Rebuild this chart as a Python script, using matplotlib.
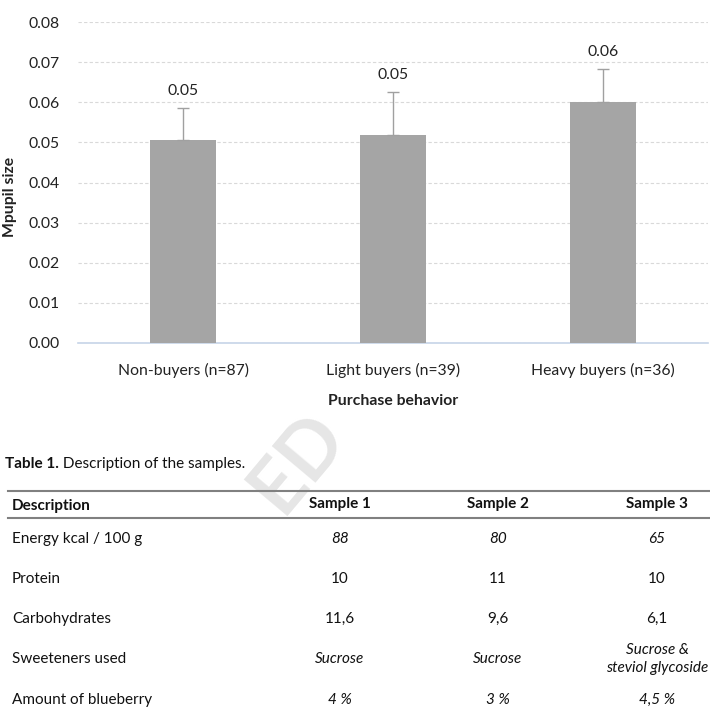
import matplotlib
matplotlib.use("Agg")
import matplotlib.pyplot as plt
import numpy as np
from matplotlib.lines import Line2D

plt.rcParams['font.family'] = ['Lato', 'DejaVu Sans']

# ---- chart data ----
categories = ["Non-buyers (n=87)", "Light buyers (n=39)", "Heavy buyers (n=36)"]
means = [0.0506, 0.0519, 0.0601]
errors = [0.0080, 0.0107, 0.0082]
yticks = [0.00, 0.01, 0.02, 0.03, 0.04, 0.05, 0.06, 0.07, 0.08]

# ---- table data ----
col_headers = ["Description", "Sample 1", "Sample 2", "Sample 3"]
row_labels = ["Energy kcal / 100 g", "Protein", "Carbohydrates", "Sweeteners used", "Amount of blueberry"]
sample1 = ["88", "10", "11,6", "Sucrose", "4 %"]
sample2 = ["80", "11", "9,6", "Sucrose", "3 %"]
sample3 = ["65", "10", "6,1", "Sucrose &\nsteviol glycoside", "4,5 %"]
row_italic = [True, False, False, True, True]

W, H = 710, 716
fig = plt.figure(figsize=(W / 100, H / 100), dpi=100)
fig.patch.set_facecolor("white")

def fx(x):
    return x / W

def fy(y):
    return 1 - y / H

CH = 11.3   # chart font size
TF = 11     # table font size
TXT = "#222222"

# faint watermark fragment
fig.text(fx(298), fy(462), "ED", fontsize=56, fontweight="bold",
         color="#e6e6e6", rotation=50, ha="center", va="center", zorder=0)

# ---- chart ----
ax = fig.add_axes([fx(78), fy(343), fx(708) - fx(78), fy(22) - fy(343)])
ax.set_facecolor("none")
x = np.arange(len(categories))
ax.bar(x, means, width=0.315, color="#a5a5a5", zorder=3,
       yerr=[np.zeros(len(errors)), errors],
       error_kw=dict(ecolor="#a0a0a0", elinewidth=1.0, capsize=4, capthick=1.0, zorder=4))
for xi, m, e in zip(x, means, errors):
    ax.annotate(f"{m:.2f}", xy=(xi, m + e), xytext=(0, 12), textcoords="offset points",
                ha="center", va="center", fontsize=CH, color=TXT, zorder=5)

ax.set_xlim(-0.5, len(categories) - 0.5)
ax.set_ylim(0, 0.08)
ax.set_yticks(yticks)
ax.set_yticklabels([f"{v:.2f}" for v in yticks], fontsize=CH, color=TXT)
ax.set_xticks(x)
ax.set_xticklabels(categories, fontsize=CH, color=TXT)
ax.tick_params(axis="both", length=0)
ax.tick_params(axis="y", pad=13)
ax.tick_params(axis="x", pad=14)
ax.yaxis.grid(True, linestyle=(0, (3, 2)), color="#d9d9d9", linewidth=0.8, zorder=0)
ax.set_axisbelow(True)
for s in ["top", "right", "left"]:
    ax.spines[s].set_visible(False)
ax.spines["bottom"].set_color("#c6d4e8")
ax.spines["bottom"].set_linewidth(1.2)
ax.set_xlabel("Purchase behavior", fontsize=CH, fontweight="bold", color=TXT, labelpad=12)
ax.set_ylabel("Mpupil size", fontsize=CH, fontweight="bold", color=TXT)
ax.yaxis.set_label_coords(-0.097, 0.455)

# ---- table ----
t1 = fig.text(fx(5), fy(464), "Table 1.", fontsize=TF, fontweight="bold", color="#111111",
              ha="left", va="center")
fig.add_artist(matplotlib.text.Annotation(" Description of the samples.", xy=(1, 0.5),
                                          xycoords=t1, ha="left", va="center",
                                          fontsize=TF, color="#111111"))

fig.add_artist(Line2D([fx(8), fx(710)], [fy(491), fy(491)], transform=fig.transFigure,
                      color="#808080", linewidth=1.5))
fig.add_artist(Line2D([fx(8), fx(710)], [fy(518), fy(518)], transform=fig.transFigure,
                      color="#808080", linewidth=1.5))

col_x = [12, 340, 498, 657]
header_y = 505
fig.text(fx(col_x[0]), fy(header_y + 1), col_headers[0], fontsize=TF, fontweight="bold",
         ha="left", va="center", color="#111111")
for cx, h in zip(col_x[1:], col_headers[1:]):
    fig.text(fx(cx), fy(header_y - 1), h, fontsize=TF, fontweight="bold",
             ha="center", va="center", color="#111111")

row_y = [539, 579, 619, 659, 700]
for ry, lab, a, b, c, it in zip(row_y, row_labels, sample1, sample2, sample3, row_italic):
    fig.text(fx(col_x[0]), fy(ry), lab, fontsize=TF, ha="left", va="center", color="#111111")
    style = "italic" if it else "normal"
    for cx, v in zip(col_x[1:], [a, b, c]):
        fig.text(fx(cx), fy(ry), v, fontsize=TF, style=style, ha="center", va="center",
                 color="#111111", linespacing=1.3)

fig.savefig("out.png", dpi=100, facecolor="white")
